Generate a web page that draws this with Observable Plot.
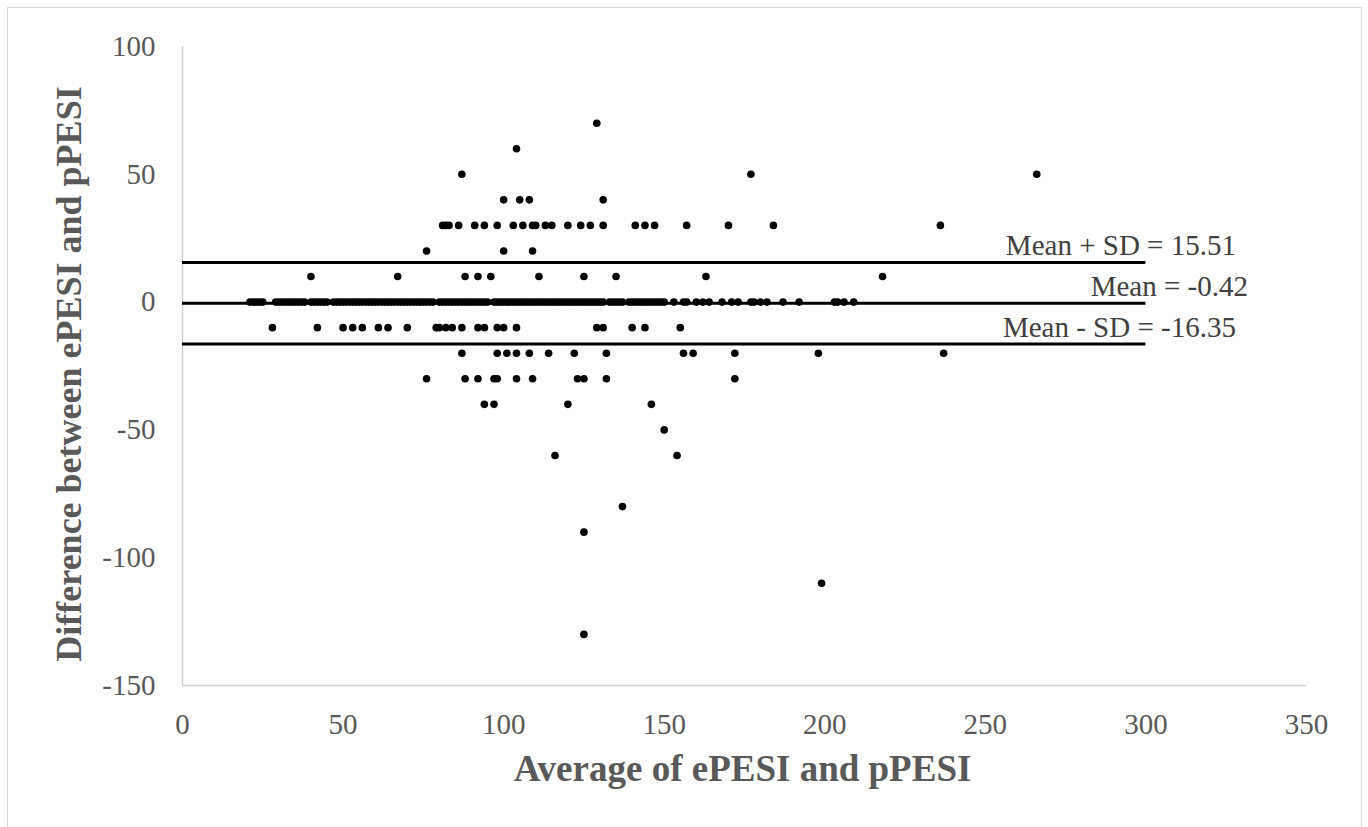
<!DOCTYPE html>
<html>
<head>
<meta charset="utf-8">
<script src="https://cdn.jsdelivr.net/npm/d3@7"></script>
<script src="https://cdn.jsdelivr.net/npm/@observablehq/plot@0.6"></script>
<style>
  html, body { margin: 0; padding: 0; background: #fff; overflow: hidden; }
  #wrap { position: relative; width: 1368px; height: 827px; }
  #frame { position: absolute; left: 7px; top: 7px; width: 1355px; height: 840px; border: 1px solid #d9d9d9; box-sizing: border-box; pointer-events: none; }
  #chart { position: absolute; left: 0; top: 0; }
</style>
</head>
<body>
<div id="wrap"><div id="frame"></div><div id="chart"></div></div>
<script>
// Averages (x) of ePESI and pPESI, grouped by their difference (y)
const avgAtPlus70 = [129];
const avgAtPlus60 = [104];
const avgAtPlus50 = [87, 177, 266];
const avgAtPlus40 = [100, 105, 108, 131];
const avgAtPlus30 = [81, 82, 83, 86, 91, 94, 98, 103, 106, 109, 110, 113, 115, 120, 124, 127, 131, 141, 144, 147, 157, 170, 184, 236];
const avgAtPlus20 = [76, 100, 109];
const avgAtPlus10 = [40, 67, 88, 92, 96, 111, 125, 135, 163, 218];
const avgAtZero = [21, 22, 23, 24, 25,
  29, 30, 31, 32, 33, 34, 35, 36, 37, 38,
  40, 41, 42, 43, 44, 45,
  47, 48, 49, 50, 51, 52, 53, 54, 55, 56, 57, 58, 59, 60, 61, 62, 63, 64, 65, 66, 67, 68, 69, 70, 71, 72, 73, 74, 75, 76, 77, 78,
  80, 81, 82, 83, 84, 85, 86, 87, 88, 89, 90, 91, 92, 93, 94, 95,
  97, 98, 99, 100, 101, 102, 103, 104, 105, 106, 107, 108, 109, 110, 111, 112, 113, 114, 115, 116, 117, 118, 119, 120,
  121, 122, 123, 124, 125, 126, 127, 128, 129, 130, 131,
  133, 134, 135, 136, 137,
  139, 140, 141, 142, 143, 144, 145, 146, 147, 148, 149, 150,
  153, 156, 157, 160, 162, 164, 168, 171, 173, 177, 178, 180, 182, 187, 192, 203, 204, 206, 209];
const avgAtMinus10 = [28, 42, 50, 53, 56, 61, 64, 70, 79, 80, 82, 84, 87, 92, 94, 98, 100, 104, 129, 131, 140, 144, 155];
const avgAtMinus20 = [87, 98, 101, 104, 108, 114, 122, 132, 156, 159, 172, 198, 237];
const avgAtMinus30 = [76, 88, 92, 97, 98, 104, 109, 123, 125, 132, 172];
const avgAtMinus40 = [94, 97, 120, 146];
const avgAtMinus50 = [150];
const avgAtMinus60 = [116, 154];
const avgAtMinus80 = [137];
const avgAtMinus90 = [125];
const avgAtMinus110 = [199];
const avgAtMinus130 = [125];

const diffLevels = [70, 60, 50, 40, 30, 20, 10, 0, -10, -20, -30, -40, -50, -60, -80, -90, -110, -130];
const avgGroups = [avgAtPlus70, avgAtPlus60, avgAtPlus50, avgAtPlus40, avgAtPlus30, avgAtPlus20, avgAtPlus10, avgAtZero,
  avgAtMinus10, avgAtMinus20, avgAtMinus30, avgAtMinus40, avgAtMinus50, avgAtMinus60, avgAtMinus80, avgAtMinus90, avgAtMinus110, avgAtMinus130];

// Mean and limits
const meanLineValues = [15.51, -0.42, -16.35];
const meanLineLabels = ["Mean + SD = 15.51", "Mean = -0.42", "Mean - SD = -16.35"];
const meanLineStart = 0;
const meanLineEnd = 300;

// Axes
const xTicks = [0, 50, 100, 150, 200, 250, 300, 350];
const yTicks = [-150, -100, -50, 0, 50, 100];
const xTitle = "Average of ePESI and pPESI";
const yTitle = "Difference between ePESI and pPESI";

const points = [];
diffLevels.forEach((d, i) => avgGroups[i].forEach(a => points.push({avg: a, diff: d})));

const serif = "'Liberation Serif', 'Times New Roman', Times, serif";
const labelDx = [90, 102, 90];

const marks = [
  Plot.ruleX([0], {y1: -150, y2: 100, stroke: "#d0d0d0", strokeWidth: 1.5}),
  Plot.ruleY([-150], {x1: 0, x2: 350, stroke: "#d0d0d0", strokeWidth: 1.5}),
  Plot.axisX({ticks: xTicks, tickSize: 0, tickPadding: 28, tickFormat: d => String(d), fill: "#595959", fontSize: 29, label: null}),
  Plot.axisY({ticks: yTicks, tickSize: 0, tickPadding: 27, tickFormat: d => String(d), fill: "#595959", fontSize: 29, label: null}),
  Plot.ruleY(meanLineValues, {x1: meanLineStart, x2: meanLineEnd, stroke: "#000", strokeWidth: 3}),
  Plot.dot(points, {x: "avg", y: "diff", r: 3.8, fill: "#000", stroke: "none"}),
  Plot.text([xTitle], {frameAnchor: "bottom", text: d => d, textAnchor: "middle", dx: -2, dy: 95, lineAnchor: "bottom", fontSize: 37, fontWeight: "bold", fill: "#595959"}),
  Plot.text([yTitle], {frameAnchor: "left", text: d => d, textAnchor: "middle", rotate: -90, dx: -127, dy: 8, lineAnchor: "top", fontSize: 36, fontWeight: "bold", fill: "#595959"})
];
meanLineLabels.forEach((lab, i) => {
  marks.push(Plot.text([lab], {x: meanLineEnd, y: meanLineValues[i], text: d => d, textAnchor: "end", lineAnchor: "bottom", dx: labelDx[i], dy: -7, fontSize: 29, fill: "#404040"}));
});

const chart = Plot.plot({
  width: 1368,
  height: 827,
  marginLeft: 182,
  marginRight: 62,
  marginTop: 46,
  marginBottom: 142,
  style: {fontFamily: serif, fontSize: "29px", background: "transparent", overflow: "visible"},
  x: {domain: [0, 350]},
  y: {domain: [-150, 100]},
  marks
});
document.getElementById("chart").appendChild(chart);
</script>
</body>
</html>
